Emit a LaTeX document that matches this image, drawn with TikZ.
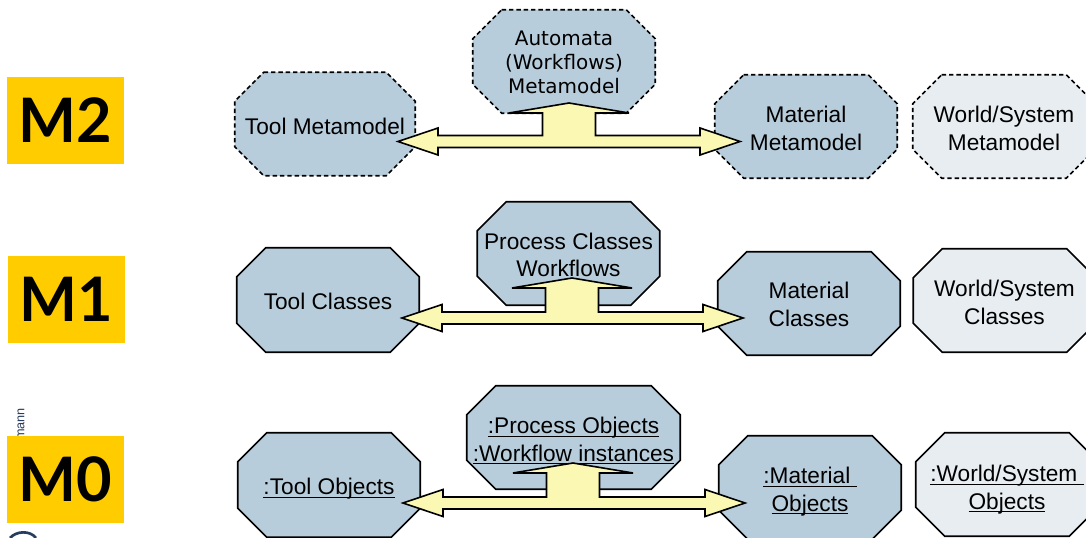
\documentclass[tikz,border=0pt]{standalone}
\usepackage{fontspec}
\setmainfont{Liberation Sans}
\newfontfamily\autofont{DejaVu Sans}
\newfontfamily\mfont{Lato}
\newcommand\ulx[1]{\setbox0\hbox{#1}\rlap{\rule[-2.4pt]{\wd0}{0.9pt}}\box0}
\usetikzlibrary{calc}
\pgfdeclarelayer{bg}
\pgfsetlayers{bg,main}
\definecolor{boxblue}{RGB}{184,205,220}
\definecolor{boxlight}{RGB}{232,237,242}
\definecolor{arrowyel}{RGB}{250,248,178}
\definecolor{mlabel}{RGB}{255,204,0}
\definecolor{logoblue}{RGB}{40,60,95}
\tikzset{
  oct/.style={minimum width=136.5pt, minimum height=77.25pt, inner sep=0pt, align=center,
    font=\fontsize{17}{20.5}\selectfont},
  octblue/.style={fill=boxblue, draw=black, line width=1.2pt, line join=miter},
  octlight/.style={fill=boxlight, draw=black, line width=1.2pt, line join=miter},
  octdashed/.style={dash pattern=on 3.3pt off 2.2pt},
  flow/.style={fill=arrowyel, draw=black, line width=1.2pt, line join=miter},
  mbox/.style={fill=mlabel, minimum width=87.75pt, minimum height=65.25pt, inner sep=0pt,
    font=\mfont\bfseries\fontsize{46}{46}\selectfont}
}
% octagon behind node #1, style #2, vertical offset #3 (px) of the outline from the node
\newcommand\octo[3]{%
  \begin{pgfonlayer}{bg}
  \draw[#2] ($(#1.north west)+(29,#3)$) -- ($(#1.north east)+(-29,#3)$) -- ($(#1.north east)+(0,29+#3)$)
    -- ($(#1.south east)+(0,-29+#3)$) -- ($(#1.south east)+(-29,#3)$) -- ($(#1.south west)+(29,#3)$)
    -- ($(#1.south west)+(0,-29+#3)$) -- ($(#1.north west)+(0,29+#3)$) -- cycle;
  \end{pgfonlayer}}
\newcommand\triarrow[5]{%
  \draw[flow] (#1,#3) -- ({#1+40},{#3-13.5}) -- ({#1+40},{#3-6}) -- ({#4-26.5},{#3-6})
    -- ({#4-26.5},#5) -- ({#4-60},#5) -- (#4,{#5-10}) -- ({#4+60},#5) -- ({#4+26.5},#5)
    -- ({#4+26.5},{#3-6}) -- ({#2-40},{#3-6}) -- ({#2-40},{#3-13.5}) -- (#2,#3)
    -- ({#2-40},{#3+13.5}) -- ({#2-40},{#3+6}) -- ({#1+40},{#3+6}) -- ({#1+40},{#3+13.5}) -- cycle;}
\begin{document}
\begin{tikzpicture}[x=0.75pt, y=-0.75pt]
\useasboundingbox (0,0) rectangle (1086,538);
\begin{pgfonlayer}{bg}
\fill[white] (0,0) rectangle (1086,538);
\end{pgfonlayer}
% M2 row
\node[oct, minimum width=135pt] (tm) at (325,126) {Tool Metamodel};
\node[oct, font=\autofont\fontsize{15}{18}\selectfont] (am) at (564,62.5) {Automata\\(Workflows)\\Metamodel};
\node[oct] (mm) at (806,128.5) {Material\\Metamodel};
\node[oct] (wm) at (1004,128.5) {World/System\\Metamodel};
% M1 row
\node[oct, minimum height=78pt] (tc) at (328,301) {Tool Classes};
\node[oct] (pc) at (568.5,255) {Process Classes\\Workflows};
\node[oct] (mc) at (809,304.5) {Material\\Classes};
\node[oct] (wc) at (1004.5,302.5) {World/System\\Classes};
% M0 row
\node[oct, minimum height=78pt] (to) at (329,489) {\ulx{:Tool Objects}};
\node[oct, minimum width=159.75pt] (po) at (573.5,441) {\ulx{:Process Objects}\\\ulx{:Workflow instances}};
\node[oct] (mo) at (810,491.5) {\ulx{:Material\ }\\\ulx{Objects}};
\node[oct] (wo) at (1007,489.5) {\ulx{:World/System\ }\\\ulx{Objects}};
% octagon outlines
\octo{tm}{octblue,octdashed}{-2}
\octo{am}{octblue,octdashed}{-1}
\octo{mm}{octblue,octdashed}{-2}
\octo{wm}{octlight,octdashed}{-2}
\octo{tc}{octblue}{-1}
\octo{pc}{octblue}{-1.5}
\octo{mc}{octblue}{-1}
\octo{wc}{octlight}{-2}
\octo{to}{octblue}{-4}
\octo{po}{octblue}{-3.5}
\octo{mo}{octblue}{-4}
\octo{wo}{octlight}{-5}
% connectors
\coordinate (a2l) at (398,141.5); \coordinate (a2r) at (740,141.5); \coordinate (a2u) at (569,103);
\coordinate (a1l) at (402,318); \coordinate (a1r) at (743,318); \coordinate (a1u) at (572,280);
\coordinate (a0l) at (403,503); \coordinate (a0r) at (745,503); \coordinate (a0u) at (573,465);
\triarrow{398}{740}{141.5}{569}{113}
\triarrow{402}{743}{318}{572}{288}
\triarrow{403}{745}{503}{573}{473}
% side
\node[rotate=90, anchor=west, inner sep=0pt, text=logoblue, font=\fontsize{9.5}{9.5}\selectfont] (cr) at (21,440) {mann};
\draw[logoblue, line width=2pt] (10,538) .. controls (16,531) and (30,530) .. (36,538);
\node[mbox] (m2) at (65.5,120.5) {M2};
\node[mbox] (m1) at (66.5,299.5) {M1};
\node[mbox] (m0) at (65.5,479) {M0};
\end{tikzpicture}
\end{document}
